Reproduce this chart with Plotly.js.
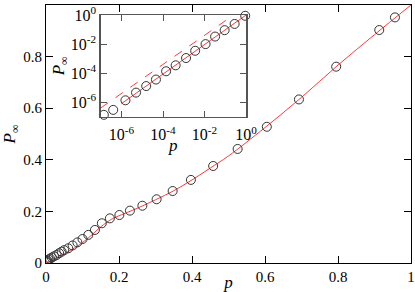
<!DOCTYPE html>
<html>
<head>
<meta charset="utf-8">
<script src="https://cdn.plot.ly/plotly-3.0.1.min.js"></script>
<style>html,body{margin:0;padding:0;background:#fff}#chart{width:415px;height:292px}</style>
</head>
<body>
<div id="chart"></div>
<script>
// Main panel: simulation points
var mainP = [0.001,0.002,0.004,0.007,0.011,0.016,0.022,0.029,0.036,0.043,0.050,0.061,0.073,0.086,0.100,0.116,0.134,0.153,0.175,0.201,0.230,0.264,0.303,0.347,0.397,0.458,0.525,0.605,0.693,0.795,0.913,0.956];
var mainPinf = [0.002,0.005,0.009,0.013,0.017,0.021,0.026,0.031,0.038,0.044,0.050,0.057,0.068,0.080,0.093,0.109,0.128,0.154,0.173,0.186,0.203,0.222,0.247,0.279,0.322,0.376,0.442,0.528,0.634,0.761,0.903,0.952];
// Main panel: red curve
var curveP = [0,0.02,0.05,0.08,0.10,0.12,0.15,0.18,0.20,0.25,0.30,0.35,0.40,0.45,0.50,0.60,0.70,0.80,0.90,1.0];
var curvePinf = [0,0.014,0.036,0.060,0.079,0.102,0.140,0.170,0.183,0.212,0.245,0.280,0.322,0.368,0.415,0.525,0.642,0.767,0.885,1.0];
// Inset (log-log): points
var insetLogP = [-6.85,-6.40,-5.81,-5.30,-4.81,-4.34,-3.85,-3.39,-2.89,-2.45,-1.95,-1.49,-1.03,-0.55,-0.04];
var insetLogPinf = [-6.87,-6.53,-5.87,-5.34,-4.89,-4.44,-3.87,-3.46,-2.96,-2.46,-2.00,-1.48,-1.04,-0.61,-0.05];
// Inset lines
var solidP = [1e-6, 1.0];
var solidPinf = [8e-7, 1.0];
var dashP = [1e-7, 0.25];
var dashPinf = [4e-7, 1.0];
// Tick labels
var mainTickVals = [0,0.2,0.4,0.6,0.8,1];
var mainTickText = ['0','0.2','0.4','0.6','0.8','1'];
var insetXTickVals = [1e-6,1e-4,1e-2,1];
var insetXTickText = ['10<sup>-6</sup>','10<sup>-4</sup>','10<sup>-2</sup>','10<sup>0</sup>'];
var insetYTickVals = [1e-6,1e-4,1e-2,1];
var insetYTickText = ['10<sup>-6</sup>','10<sup>-4</sup>','10<sup>-2</sup>','10<sup>0</sup>'];

var red = '#ff3b3b';
var circ = '#333333';
var font = "'Liberation Serif', 'Times New Roman', 'DejaVu Serif', serif";

var traces = [
  {x: curveP, y: curvePinf, mode: 'lines', line: {color: red, width: 1, shape: 'spline'}, xaxis: 'x', yaxis: 'y', hoverinfo: 'skip'},
  {x: mainP, y: mainPinf, mode: 'markers', marker: {symbol: 'circle-open', size: 9, color: circ, line: {width: 1, color: circ}}, xaxis: 'x', yaxis: 'y'},
  {x: dashP, y: dashPinf, mode: 'lines', line: {color: red, width: 1, dash: 'dash'}, xaxis: 'x2', yaxis: 'y2'},
  {x: solidP, y: solidPinf, mode: 'lines', line: {color: red, width: 1}, xaxis: 'x2', yaxis: 'y2'},
  {x: insetLogP.map(function(v){return Math.pow(10,v);}), y: insetLogPinf.map(function(v){return Math.pow(10,v);}), mode: 'markers', marker: {symbol: 'circle-open', size: 9, color: circ, line: {width: 1, color: circ}}, xaxis: 'x2', yaxis: 'y2', cliponaxis: false}
];

var layout = {
  width: 415, height: 292,
  margin: {l: 46, r: 4, t: 5, b: 29},
  showlegend: false,
  paper_bgcolor: '#fff', plot_bgcolor: '#fff',
  font: {family: font, size: 15, color: '#000'},
  xaxis: {
    domain: [0, 1], range: [0, 1], tickvals: mainTickVals, ticktext: mainTickText,
    ticks: 'inside', ticklen: 7, tickcolor: '#000', mirror: 'ticks', showline: true, linecolor: '#000', linewidth: 1,
    showgrid: false, zeroline: false, automargin: false, tickfont: {family: font, size: 15},
    title: {text: '<i>p</i>', font: {family: font, size: 17}, standoff: 0}
  },
  yaxis: {
    domain: [0, 1], range: [0, 1], tickvals: mainTickVals, ticktext: mainTickText,
    ticks: 'inside', ticklen: 7, tickcolor: '#000', mirror: 'ticks', showline: true, linecolor: '#000', linewidth: 1,
    showgrid: false, zeroline: false, automargin: false, tickfont: {family: font, size: 15},
    title: {text: '<i>P</i><sub>∞</sub>', font: {family: font, size: 17}, standoff: 10}
  },
  xaxis2: {
    type: 'log', domain: [0.150, 0.548], range: [-7, 0], anchor: 'y2',
    tickvals: insetXTickVals, ticktext: insetXTickText,
    ticks: 'inside', ticklen: 6, tickcolor: '#555', mirror: 'ticks', showline: true, linecolor: '#555', linewidth: 1.5,
    showgrid: false, zeroline: false, automargin: false, tickfont: {family: font, size: 16}, ticklabelstandoff: 3
  },
  yaxis2: {
    type: 'log', domain: [0.567, 0.961], range: [-7, 0], anchor: 'x2',
    tickvals: insetYTickVals, ticktext: insetYTickText,
    ticks: 'inside', ticklen: 6, tickcolor: '#555', mirror: 'ticks', showline: true, linecolor: '#555', linewidth: 1.5,
    showgrid: false, zeroline: false, automargin: false, tickfont: {family: font, size: 16},
    title: {text: '<i>P</i><sub>∞</sub>', font: {family: font, size: 17}, standoff: 0}
  },
  annotations: [
    {text: '<i>p</i>', xref: 'paper', yref: 'paper', x: 0.348, y: 0.457, xanchor: 'center', yanchor: 'middle', showarrow: false, font: {family: font, size: 17}}
  ]
};

Plotly.newPlot('chart', traces, layout, {staticPlot: true, displayModeBar: false});
</script>
</body>
</html>
